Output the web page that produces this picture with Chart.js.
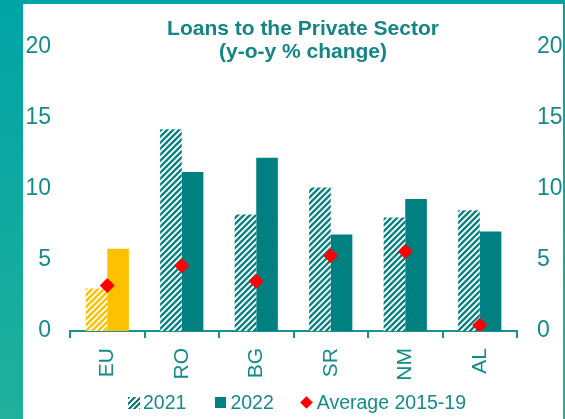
<!doctype html>
<html lang="en">
<head>
  <meta charset="utf-8" />
  <title>Loans to the Private Sector</title>
  <script src="https://cdn.jsdelivr.net/npm/chart.js@4.4.1/dist/chart.umd.min.js"></script>
  <style>
    body {
      margin: 0;
      width: 565px;
      height: 419px;
      overflow: hidden;
      background: linear-gradient(#00a3a5, #20b09b);
      font-family: "Liberation Sans", Arial, sans-serif;
    }
    .panel {
      position: absolute;
      left: 23px;
      top: 4px;
      width: 540px;
      height: 415px;
      background: #ffffff;
    }
    #loans { display: block; }
    .legend {
      position: absolute;
      left: 105px;
      top: 387px;
      display: flex;
      align-items: center;
      font-size: 19.5px;
      color: #148b8b;
      white-space: nowrap;
    }
    .legend span { display: inline-block; }
    .box { width: 12px; height: 12px; margin-right: 3px; }
    .hatch { background: repeating-linear-gradient(135deg, #0e8080 0 2px, #ffffff 2px 4px); }
    .solid { background: #008080; width: 11px; height: 11px; margin-left: 29px; margin-right: 4px; }
    .diamond { width: 9px; height: 9px; background: #ff0000; transform: rotate(45deg); margin-left: 28px; margin-right: 6px; }
  </style>
</head>
<body>
  <div class="panel">
    <canvas id="loans" width="540" height="415"></canvas>
    <div class="legend">
      <span class="box hatch"></span><span>2021</span>
      <span class="box solid"></span><span>2022</span>
      <span class="diamond"></span><span>Average 2015-19</span>
    </div>
  </div>

  <script>
    // data
    const categories = ["EU", "RO", "BG", "SR", "NM", "AL"];
    const loans2021 = [3.0, 14.2, 8.2, 10.1, 8.0, 8.5];
    const loans2022 = [5.8, 11.2, 12.2, 6.8, 9.3, 7.0];
    const avg2015_19 = [3.2, 4.6, 3.5, 5.3, 5.6, 0.4];

    const teal = "#008080";
    const yellow = "#ffc000";
    const textTeal = "#148b8b";

    // diagonal stripe fill for the 2021 bars
    function stripes(color) {
      const c = document.createElement("canvas");
      c.width = 6;
      c.height = 6;
      const g = c.getContext("2d");
      g.fillStyle = "#ffffff";
      g.fillRect(0, 0, 6, 6);
      g.strokeStyle = color;
      g.lineWidth = 2.4;
      g.beginPath();
      g.moveTo(-3, 3); g.lineTo(3, -3);
      g.moveTo(0, 6); g.lineTo(6, 0);
      g.moveTo(3, 9); g.lineTo(9, 3);
      g.stroke();
      return g.createPattern(c, "repeat");
    }
    const tealHatch = stripes("#0e8080");
    const yellowHatch = stripes(yellow);

    // title drawn by hand so it sits where the original has it
    const titlePlugin = {
      id: "titleText",
      afterDraw(chart) {
        const ctx = chart.ctx;
        ctx.save();
        ctx.fillStyle = "#138585";
        ctx.font = "bold 21px 'Liberation Sans', Arial, sans-serif";
        ctx.textAlign = "center";
        ctx.textBaseline = "alphabetic";
        ctx.fillText("Loans to the Private Sector", 280, 31);
        ctx.fillText("(y-o-y % change)", 280, 54);
        ctx.restore();
      }
    };

    const catFont = { family: "'Liberation Sans', Arial, sans-serif", size: 21 };
    const valFont = { family: "'Liberation Sans', Arial, sans-serif", size: 23 };

    new Chart(document.getElementById("loans"), {
      type: "bar",
      plugins: [titlePlugin],
      data: {
        labels: categories,
        datasets: [
          {
            label: "2021",
            data: loans2021,
            backgroundColor: categories.map((c) => (c === "EU" ? yellowHatch : tealHatch)),
            order: 2,
          },
          {
            label: "2022",
            data: loans2022,
            backgroundColor: categories.map((c) => (c === "EU" ? yellow : teal)),
            order: 2,
          },
          {
            type: "line",
            label: "Average 2015-19",
            data: avg2015_19,
            showLine: false,
            pointStyle: "rectRot",
            pointRadius: 7.5,
            pointBackgroundColor: "#ff0000",
            pointBorderColor: "#ff0000",
            pointBorderWidth: 0,
            order: 1,
          },
        ],
      },
      options: {
        responsive: false,
        animation: false,
        layout: { padding: { top: 43, left: 0, right: 0, bottom: 0 } },
        datasets: {
          bar: { categoryPercentage: 0.58, barPercentage: 1.0 },
        },
        plugins: {
          legend: { display: false },
          tooltip: { enabled: false },
          title: { display: false },
        },
        scales: {
          x: {
            grid: {
              offset: true,
              drawOnChartArea: false,
              drawTicks: true,
              tickLength: 7,
              color: "#1a9090",
              lineWidth: 2,
            },
            border: { display: true, color: "#1a9090", width: 2 },
            ticks: {
              color: textTeal,
              font: catFont,
              minRotation: 90,
              maxRotation: 90,
              padding: 10,
            },
            afterFit(scale) { scale.height = 88; },
          },
          y: {
            position: "left",
            min: 0,
            max: 20,
            grid: { display: false, drawTicks: false },
            border: { display: false },
            ticks: { stepSize: 5, color: textTeal, font: valFont, padding: 19 },
            afterFit(scale) { scale.width = 47; },
          },
          y1: {
            position: "right",
            min: 0,
            max: 20,
            grid: { display: false, drawTicks: false },
            border: { display: false },
            ticks: { stepSize: 5, color: textTeal, font: valFont, padding: 20 },
            afterFit(scale) { scale.width = 46; },
          },
        },
      },
    });
  </script>
</body>
</html>
